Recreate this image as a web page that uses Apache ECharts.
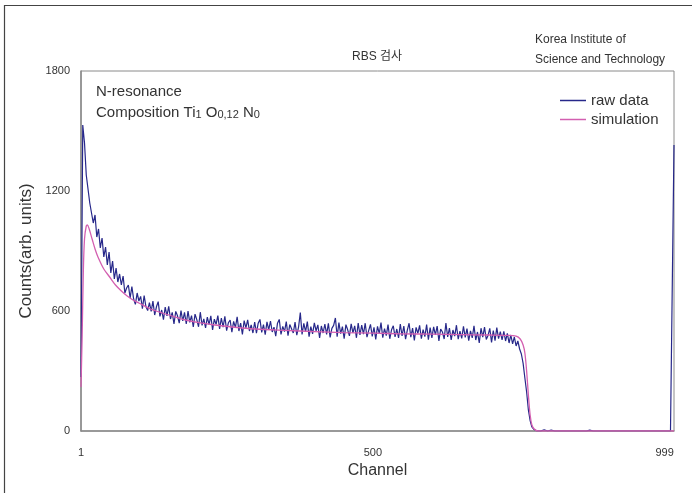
<!DOCTYPE html>
<html>
<head>
<meta charset="utf-8">
<title>RBS 검사</title>
<script src="https://cdn.jsdelivr.net/npm/echarts@6/dist/echarts.min.js"></script>
<style>
  html, body { margin: 0; padding: 0; background: #fff; }
  #chart { width: 692px; height: 493px; }
</style>
</head>
<body>
<div id="chart"></div>
<script>
// raw spectrum, read every 3rd channel starting at channel 1
const RAW_START = 1
const RAW_STEP = 3
const rawCounts = [
  270, 1530, 1440, 1280, 1270, 1140, 1150, 1040, 1080, 970, 1010, 915, 965, 870, 920, 830, 895, 790, 850, 760,
  815, 745, 785, 730, 775, 690, 715, 730, 665, 722, 660, 633, 690, 650, 673, 612, 677, 622, 602, 642,
  598, 649, 580, 621, 647, 573, 605, 557, 619, 576, 623, 560, 593, 535, 598, 576, 539, 602, 550, 593,
  536, 600, 543, 577, 520, 584, 557, 521, 594, 528, 561, 515, 569, 532, 576, 505, 559, 533, 577, 511,
  565, 519, 573, 502, 541, 555, 494, 548, 517, 571, 500, 539, 483, 552, 516, 556, 500, 530, 490, 545,
  489, 539, 558, 493, 532, 482, 546, 506, 550, 495, 519, 474, 539, 558, 483, 523, 497, 547, 477, 532,
  535, 490, 544, 479, 519, 592, 483, 538, 497, 547, 472, 522, 486, 541, 501, 531, 465, 525, 490, 535,
  483, 538, 468, 513, 528, 565, 472, 542, 487, 522, 462, 532, 506, 476, 536, 491, 526, 466, 540, 480,
  529, 484, 539, 469, 503, 533, 473, 518, 458, 523, 487, 542, 467, 512, 477, 532, 461, 506, 526, 471,
  510, 465, 535, 475, 524, 459, 504, 539, 469, 514, 453, 518, 488, 528, 462, 507, 472, 532, 457, 517,
  466, 521, 481, 525, 450, 510, 495, 460, 540, 470, 515, 455, 505, 474, 529, 459, 499, 463, 523, 468,
  512, 452, 501, 466, 526, 455, 495, 440, 514, 469, 519, 458, 478, 513, 443, 502, 452, 517, 462, 497,
  455, 498, 450, 488, 440, 480, 436, 470, 425, 450, 410, 385, 338, 265, 195, 105, 52, 20, 9, 2,
  0, 4, 0, 0, 6, 0, 0, 0, 5, 0, 0, 0, 0, 3, 0, 0, 0, 0, 0, 0,
  0, 0, 0, 0, 0, 0, 0, 0, 0, 0, 4, 0, 0, 0, 0, 0, 0, 5, 0, 0,
  0, 0, 0, 0, 0, 0, 0, 4, 0, 0, 0, 0, 0, 0, 0, 0, 0, 0, 0, 0,
  0, 0, 0, 0, 0, 0, 0, 0, 0, 0, 0, 0, 0, 0, 0, 0, 0, 0, 1430
]

// simulated curve
const simChannels = [1, 3, 5, 7, 10, 12, 15, 20, 25, 30, 40, 50, 60, 70, 80, 90, 100, 120, 140, 160,
  180, 200, 230, 260, 300, 350, 400, 450, 500, 550, 600, 650, 700, 730, 745, 752, 757, 760, 763, 766,
  769, 772, 776, 782, 1015]
const simCounts = [220, 480, 800, 960, 1025, 1030, 1010, 960, 910, 870, 810, 770, 730, 700, 675, 655, 640, 610, 590, 572,
  555, 543, 530, 520, 510, 503, 497, 492, 489, 486, 484, 482, 480, 478, 474, 460, 430, 390, 300, 180,
  80, 30, 10, 0, 0]

const xTickLabels = [1, 500, 999]
const yTicks = [0, 600, 1200, 1800]

const font = '"Liberation Sans", "Noto Sans CJK KR", sans-serif'

let myChart = echarts.init(document.getElementById('chart'))

const option = {
  animation: false,
  backgroundColor: '#fff',
  textStyle: { fontFamily: font },
  grid: {
    left: 81, right: 18, top: 71, bottom: 62,
    show: true,
    borderColor: '#8a8a8a',
    borderWidth: 1
  },
  legend: {
    orient: 'vertical',
    left: 555,
    top: 88,
    icon: 'rect',
    itemWidth: 26,
    itemHeight: 1.5,
    itemGap: 4,
    textStyle: { fontSize: 15, color: '#333', fontFamily: font },
    data: ['raw data', 'simulation']
  },
  xAxis: {
    type: 'value',
    min: 1,
    max: 1015,
    name: 'Channel',
    nameLocation: 'middle',
    nameGap: 32,
    nameTextStyle: { fontSize: 16, color: '#333' },
    splitLine: { show: false },
    axisTick: { show: false },
    axisLine: { lineStyle: { color: '#8a8a8a', width: 1.5 } },
    axisLabel: {
      customValues: xTickLabels,
      margin: 16,
      fontSize: 11,
      color: '#333'
    }
  },
  yAxis: {
    type: 'value',
    min: 0,
    max: 1800,
    interval: 600,
    name: 'Counts(arb. units)',
    nameLocation: 'middle',
    nameRotate: 90,
    nameGap: 27,
    nameTextStyle: { fontSize: 17, color: '#333' },
    splitLine: { show: false },
    axisTick: { show: false },
    axisLine: { show: true, lineStyle: { color: '#8a8a8a', width: 1.5 } },
    axisLabel: {
      customValues: yTicks,
      formatter: v => String(v),
      margin: 11,
      fontSize: 11,
      color: '#333'
    }
  },
  graphic: [
    {
      type: 'rect',
      shape: { x: 4.5, y: 5.5, width: 720, height: 520 },
      style: { fill: null, stroke: '#444', lineWidth: 1.2 },
      silent: true
    },
    {
      type: 'text', left: 352, top: 51,
      style: { text: 'RBS 검사', font: '12px ' + font, fill: '#333' }
    },
    {
      type: 'text', left: 535, top: 34,
      style: { text: 'Korea Institute of', font: '12px ' + font, fill: '#333' }
    },
    {
      type: 'text', left: 535, top: 54,
      style: { text: 'Science and Technology', font: '12px ' + font, fill: '#333' }
    },
    {
      type: 'text', left: 96, top: 84,
      style: { text: 'N-resonance', font: '15px ' + font, fill: '#333' }
    },
    {
      type: 'text', left: 96, top: 105,
      style: {
        text: 'Composition Ti{s|1} O{s|0,12} N{s|0}',
        font: '15px ' + font,
        fill: '#333',
        rich: {
          s: { fontSize: 11, fontFamily: font, fill: '#333', verticalAlign: 'bottom', padding: [5, 0, 0, 0] }
        }
      }
    }
  ],
  series: [
    {
      name: 'raw data',
      type: 'line',
      showSymbol: false,
      color: '#27288a',
      lineStyle: { width: 1.2, color: '#27288a' },
      data: rawCounts.map((v, i) => [RAW_START + RAW_STEP * i, v]),
      z: 2
    },
    {
      name: 'simulation',
      type: 'line',
      showSymbol: false,
      smooth: 0.3,
      color: '#d35fb0',
      lineStyle: { width: 1.3, color: '#d35fb0' },
      data: simChannels.map((c, i) => [c, simCounts[i]]),
      z: 3
    }
  ]
}

myChart.setOption(option)
</script>
</body>
</html>
